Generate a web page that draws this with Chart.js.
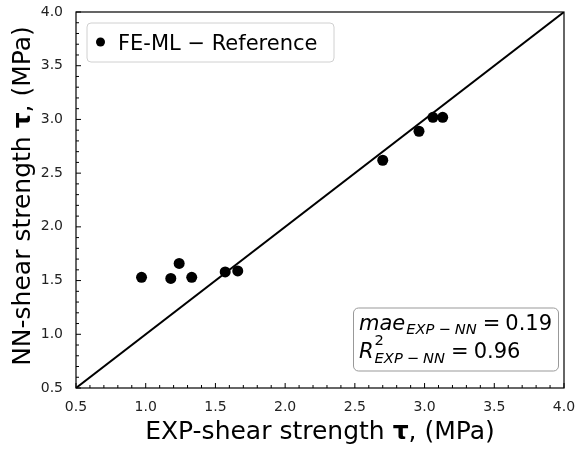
<!DOCTYPE html>
<html>
<head>
<meta charset="utf-8">
<script src="https://cdn.jsdelivr.net/npm/chart.js@4.4.1/dist/chart.umd.min.js"></script>
<style>
  html, body { margin: 0; padding: 0; background: #fff; }
  #wrap { width: 577px; height: 450px; }
</style>
</head>
<body>
<div id="wrap"><canvas id="chart" width="577" height="450"></canvas></div>
<script>
// measured vs predicted shear strength, MPa
const expStrength = [0.97, 1.18, 1.24, 1.33, 1.57, 1.66, 2.70, 2.96, 3.06, 3.13];
const nnStrength = [1.53, 1.52, 1.66, 1.53, 1.58, 1.59, 2.62, 2.89, 3.02, 3.02];

// y = x reference
const refLineX = [0.5, 4.0];
const refLineY = [0.5, 4.0];

const axisTicks = [0.5, 1.0, 1.5, 2.0, 2.5, 3.0, 3.5, 4.0];
const minorStep = 0.1;

const legendLabel = "FE-ML \u2212 Reference";
const maeText = "0.19";
const r2Text = "0.96";

const FONT = '"DejaVu Sans", sans-serif';

function drawParts(ctx, parts, x, y) {
  // parts: [{ text, font, gap }] drawn left to right from x
  let cx = x;
  for (const p of parts) {
    cx += p.gap || 0;
    ctx.font = p.font;
    ctx.fillText(p.text, cx, y);
    cx += ctx.measureText(p.text).width;
  }
  return cx;
}

function partsWidth(ctx, parts) {
  let w = 0;
  for (const p of parts) {
    ctx.font = p.font;
    w += (p.gap || 0) + ctx.measureText(p.text).width;
  }
  return w;
}

function roundBox(ctx, x, y, w, h, r, stroke) {
  ctx.beginPath();
  ctx.roundRect(x, y, w, h, r);
  ctx.fillStyle = "#fff";
  ctx.fill();
  ctx.strokeStyle = stroke;
  ctx.lineWidth = 1;
  ctx.stroke();
}

const decorations = {
  id: "decorations",
  afterDraw(chart) {
    const { ctx, chartArea: a, scales } = chart;
    const sx = scales.x;
    const sy = scales.y;
    ctx.save();

    // frame
    ctx.strokeStyle = "#000";
    ctx.lineWidth = 1.2;
    ctx.strokeRect(a.left, a.top, a.right - a.left, a.bottom - a.top);

    // inward ticks on bottom and left
    ctx.lineWidth = 1;
    for (let i = 0; ; i++) {
      const v = Math.round((0.5 + i * minorStep) * 10) / 10;
      if (v > 4.0) break;
      const major = axisTicks.includes(v);
      const len = major ? 5 : 3;
      const px = sx.getPixelForValue(v);
      const py = sy.getPixelForValue(v);
      ctx.beginPath();
      ctx.moveTo(px, a.bottom);
      ctx.lineTo(px, a.bottom - len);
      ctx.moveTo(a.left, py);
      ctx.lineTo(a.left + len, py);
      ctx.stroke();
    }

    // axis titles
    ctx.fillStyle = "#000";
    ctx.textBaseline = "alphabetic";
    const reg = `25px ${FONT}`;
    const bold = `bold 25px ${FONT}`;
    const xTitle = [
      { text: "EXP-shear strength ", font: reg },
      { text: "\u03c4", font: bold },
      { text: ", (MPa)", font: reg },
    ];
    const xw = partsWidth(ctx, xTitle);
    drawParts(ctx, xTitle, (a.left + a.right) / 2 - xw / 2, 439);

    const yTitle = [
      { text: "NN-shear strength ", font: reg },
      { text: "\u03c4", font: bold },
      { text: ", (MPa)", font: reg },
    ];
    const yw = partsWidth(ctx, yTitle);
    ctx.save();
    ctx.translate(30, 196);
    ctx.rotate(-Math.PI / 2);
    drawParts(ctx, yTitle, -yw / 2, 0);
    ctx.restore();

    // legend
    roundBox(ctx, 87, 23, 247, 39, 4, "#d0d0d0");
    ctx.fillStyle = "#000";
    ctx.beginPath();
    ctx.arc(100.5, 42, 4.5, 0, Math.PI * 2);
    ctx.fill();
    ctx.font = `21px ${FONT}`;
    ctx.fillText(legendLabel, 118, 49.5);

    // error metrics box
    roundBox(ctx, 353.5, 308, 205, 63, 5, "#999");
    ctx.fillStyle = "#000";
    const it = `italic 21px ${FONT}`;
    const itSmall = `italic 14.7px ${FONT}`;
    const small = `14.7px ${FONT}`;
    const rg = `21px ${FONT}`;
    const sub = [
      { text: "EXP", font: itSmall },
      { text: "\u2212", font: small, gap: 4 },
      { text: "NN", font: itSmall, gap: 4 },
    ];
    let cx = drawParts(ctx, [{ text: "mae", font: it }], 359, 330);
    cx = drawParts(ctx, sub, cx + 1, 334);
    drawParts(ctx, [
      { text: "=", font: rg, gap: 6 },
      { text: maeText, font: rg, gap: 5 },
    ], cx, 330);

    cx = drawParts(ctx, [{ text: "R", font: it }], 359, 358);
    drawParts(ctx, [{ text: "2", font: small }], cx + 1, 345);
    cx = drawParts(ctx, sub, cx + 1, 363);
    drawParts(ctx, [
      { text: "=", font: rg, gap: 6 },
      { text: r2Text, font: rg, gap: 5 },
    ], cx, 358);

    ctx.restore();
  },
};

const axisBase = (fitFn) => ({
  type: "linear",
  min: 0.5,
  max: 4.0,
  grid: { display: false, drawTicks: false },
  border: { display: false },
  afterBuildTicks: (scale) => {
    scale.ticks = axisTicks.map((value) => ({ value }));
  },
  afterFit: fitFn,
});

new Chart(document.getElementById("chart"), {
  data: {
    datasets: [
      {
        type: "scatter",
        label: "FE-ML",
        data: expStrength.map((v, i) => ({ x: v, y: nnStrength[i] })),
        backgroundColor: "#000",
        borderWidth: 0,
        pointRadius: 5.5,
        order: 1,
      },
      {
        type: "line",
        label: "Reference",
        data: refLineX.map((v, i) => ({ x: v, y: refLineY[i] })),
        borderColor: "#000",
        borderWidth: 2,
        pointRadius: 0,
        fill: false,
        order: 2,
      },
    ],
  },
  options: {
    responsive: false,
    animation: false,
    layout: { padding: { top: 12, right: 13, left: 0, bottom: 0 } },
    plugins: {
      legend: { display: false },
      tooltip: { enabled: false },
    },
    scales: {
      x: {
        // fixed box; let layout padding decide the plot edges
        ...axisBase((scale) => {
          scale.height = 62;
          scale.paddingLeft = 0;
          scale.paddingRight = 0;
        }),
        position: "bottom",
        ticks: {
          padding: 11,
          color: "#222",
          font: { family: FONT, size: 14 },
          callback: (v) => Number(v).toFixed(1),
        },
      },
      y: {
        ...axisBase((scale) => {
          scale.width = 76;
          scale.paddingTop = 0;
          scale.paddingBottom = 0;
        }),
        position: "left",
        ticks: {
          padding: 13,
          color: "#222",
          font: { family: FONT, size: 14 },
          callback: (v) => Number(v).toFixed(1),
        },
      },
    },
  },
  plugins: [decorations],
});
</script>
</body>
</html>
